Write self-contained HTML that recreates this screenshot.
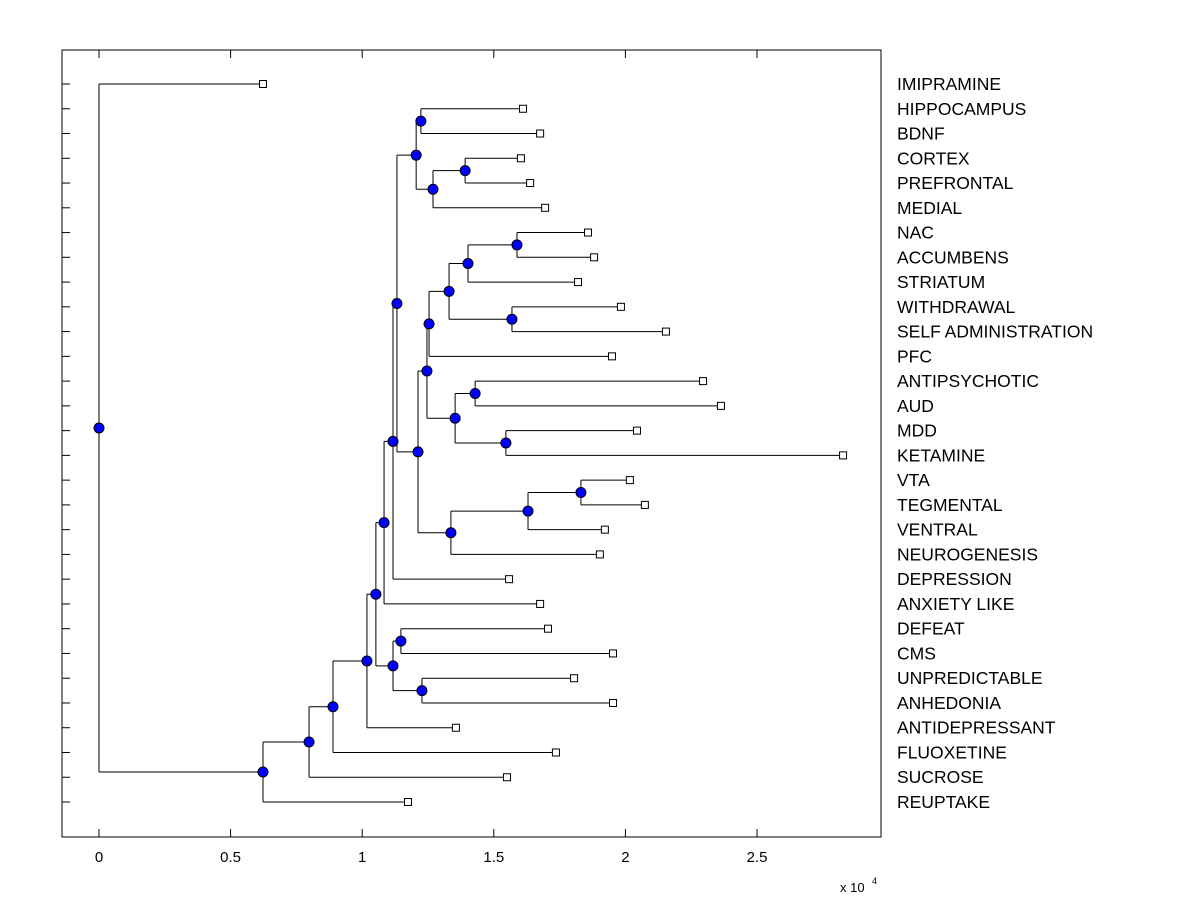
<!DOCTYPE html>
<html><head><meta charset="utf-8"><style>
body{margin:0;background:#fff}
svg{display:block;font-family:"Liberation Sans",Arial,sans-serif}
</style></head><body>
<svg id="chart" width="1200" height="900" viewBox="0 0 1200 900">
<rect x="62" y="50" width="819" height="787" fill="#fff" stroke="#000" stroke-width="1"/>
<g id="g"></g>
</svg>
<script>
const leafNames=["IMIPRAMINE","HIPPOCAMPUS","BDNF","CORTEX","PREFRONTAL","MEDIAL","NAC","ACCUMBENS","STRIATUM","WITHDRAWAL","SELF ADMINISTRATION","PFC","ANTIPSYCHOTIC","AUD","MDD","KETAMINE","VTA","TEGMENTAL","VENTRAL","NEUROGENESIS","DEPRESSION","ANXIETY LIKE","DEFEAT","CMS","UNPREDICTABLE","ANHEDONIA","ANTIDEPRESSANT","FLUOXETINE","SUCROSE","REUPTAKE"];
const leafValues=[0.623,1.611,1.676,1.603,1.638,1.695,1.858,1.881,1.820,1.983,2.154,1.949,2.295,2.363,2.044,2.827,2.017,2.074,1.922,1.903,1.558,1.676,1.706,1.953,1.805,1.953,1.356,1.736,1.550,1.174];
const nodeNames=["root","nA","nB","nC","nD","nE","nG","nH","nI","nF","nJ","nK","nM","nO","nP","nQ","nN","nR","nT","nV","nW","nY","nX","nU","nZ","nAA","nS","nBB","nCC"];
const nodeValues=[0,0.623,0.798,0.889,1.018,1.052,1.117,1.147,1.227,1.083,1.117,1.132,1.205,1.223,1.269,1.391,1.212,1.246,1.254,1.330,1.402,1.588,1.569,1.353,1.429,1.546,1.337,1.630,1.831];
const nodeChildren=[["IMIPRAMINE","nA"],["nB","REUPTAKE"],["nC","SUCROSE"],["nD","FLUOXETINE"],["nE","ANTIDEPRESSANT"],["nF","nG"],["nH","nI"],["DEFEAT","CMS"],["UNPREDICTABLE","ANHEDONIA"],["nJ","ANXIETY LIKE"],["nK","DEPRESSION"],["nM","nN"],["nO","nP"],["HIPPOCAMPUS","BDNF"],["nQ","MEDIAL"],["CORTEX","PREFRONTAL"],["nR","nS"],["nT","nU"],["nV","PFC"],["nW","nX"],["nY","STRIATUM"],["NAC","ACCUMBENS"],["WITHDRAWAL","SELF ADMINISTRATION"],["nZ","nAA"],["ANTIPSYCHOTIC","AUD"],["MDD","KETAMINE"],["nBB","NEUROGENESIS"],["nCC","VENTRAL"],["VTA","TEGMENTAL"]];
const xTicks=[0,0.5,1,1.5,2,2.5];
const xTickLabels=["0","0.5","1","1.5","2","2.5"];

const X=v=>99+v*263.2;
const Y=i=>84+i*(718/29);
const NS="http://www.w3.org/2000/svg";
const g=document.getElementById('g');
function mk(t,a,txt){const e=document.createElementNS(NS,t);for(const k in a)e.setAttribute(k,a[k]);if(txt!==undefined)e.textContent=txt;g.appendChild(e);return e;}
const pos={};
leafNames.forEach((n,i)=>{pos[n]={x:X(leafValues[i]),y:Y(i)};});
function resolve(n){
  if(pos[n])return pos[n];
  const k=nodeNames.indexOf(n);
  const a=resolve(nodeChildren[k][0]),b=resolve(nodeChildren[k][1]);
  pos[n]={x:X(nodeValues[k]),y:(a.y+b.y)/2};return pos[n];
}
nodeNames.forEach(resolve);
leafNames.forEach((n,i)=>{
  const t=mk('line',{x1:62,x2:70,y1:Y(i),y2:Y(i),stroke:'#000'});
  
  
  const l=mk('text',{x:897,y:Y(i)+6,'font-size':17.5},n);
  
  
});
xTicks.forEach((v,i)=>{
  const t=mk('line',{x1:X(v),x2:X(v),y1:837,y2:829,stroke:'#000'});
  
  
  const t2=mk('line',{x1:X(v),x2:X(v),y1:50,y2:58,stroke:'#000'});
  
  
  const l=mk('text',{x:X(v),y:862,'font-size':15,'text-anchor':'middle'},xTickLabels[i]);
  
  
});
const ex=mk('text',{x:840,y:892,'font-size':13},'x 10');


const ex2=mk('text',{x:872,y:884,'font-size':9},'4');


nodeNames.forEach((n,k)=>{
  const p=pos[n];const a=pos[nodeChildren[k][0]],b=pos[nodeChildren[k][1]];
  const v=mk('line',{x1:p.x,x2:p.x,y1:a.y,y2:b.y,stroke:'#000'});
  
  
  [a,b].forEach(c=>{
    const h=mk('line',{x1:p.x,x2:c.x,y1:c.y,y2:c.y,stroke:'#000'});
    
    
  });
});
leafNames.forEach(n=>{
  const p=pos[n];
  const s=mk('rect',{x:p.x-3.5,y:p.y-3.5,width:7,height:7,fill:'#fff',stroke:'#000'});
  
  
});
nodeNames.forEach(n=>{
  const p=pos[n];
  const c=mk('circle',{cx:p.x,cy:p.y,r:5,fill:'#0000ff',stroke:'#000'});
  
  
});
</script>
</body></html>
